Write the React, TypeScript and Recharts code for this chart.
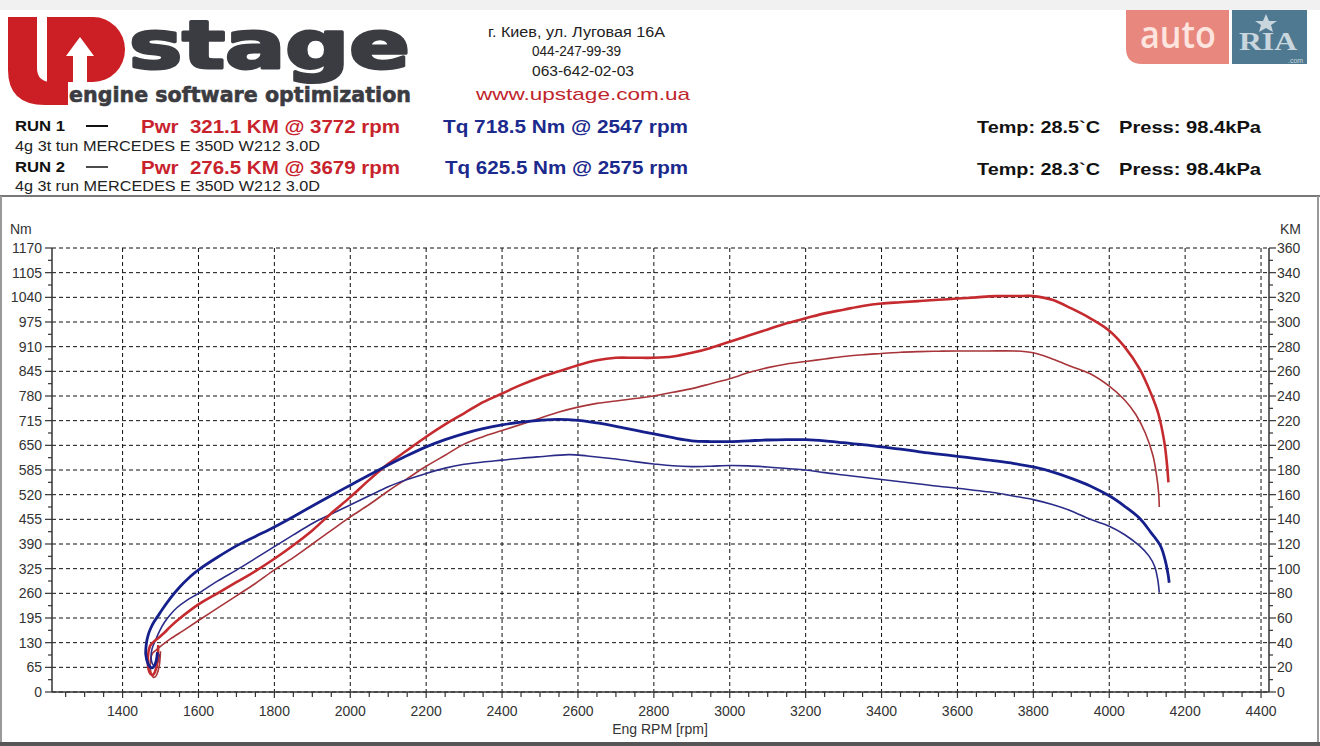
import React from 'react';
import { LineChart, Line, XAxis, YAxis, CartesianGrid } from 'recharts';

// ---------- data ----------
const rpmMajor = [1400, 1600, 1800, 2000, 2200, 2400, 2600, 2800, 3000, 3200, 3400, 3600, 3800, 4000, 4200, 4400];
const nmMajor = [0, 65, 130, 195, 260, 325, 390, 455, 520, 585, 650, 715, 780, 845, 910, 975, 1040, 1105, 1170];
const kmMajor = [0, 20, 40, 60, 80, 100, 120, 140, 160, 180, 200, 220, 240, 260, 280, 300, 320, 340, 360];

// [rpm, value] in recorded order (runs start with a small loop)
const run1Torque: [number, number][] = [
  [1492, 105], [1488, 80], [1479, 64], [1468, 72], [1461, 100], [1463, 130], [1468, 152], [1475, 170], [1483, 185],
  [1493, 200], [1505, 218], [1525, 246], [1550, 276], [1575, 301], [1600, 322], [1650, 355], [1700, 385], [1750, 410],
  [1800, 435], [1850, 462], [1900, 490], [1950, 518], [2000, 545], [2050, 572], [2100, 598], [2150, 623], [2200, 646],
  [2250, 665], [2300, 681], [2350, 694], [2400, 704], [2450, 711], [2500, 716], [2547, 718.5], [2600, 716], [2650, 709],
  [2700, 700], [2750, 690], [2800, 680], [2850, 670], [2900, 662], [2950, 660], [3000, 660], [3050, 662], [3100, 664],
  [3150, 665], [3200, 665], [3250, 662], [3300, 657], [3350, 652], [3400, 646], [3450, 640], [3500, 633], [3550, 627],
  [3600, 621], [3650, 615], [3700, 609], [3750, 602], [3800, 593], [3850, 580], [3900, 563], [3950, 543], [4000, 517],
  [4040, 490], [4080, 458], [4110, 420], [4135, 385], [4148, 345], [4155, 310], [4158, 288],
];
const run2Torque: [number, number][] = [
  [1497, 100], [1493, 80], [1486, 70], [1478, 75], [1475, 95], [1478, 115], [1486, 135], [1497, 160], [1510, 183],
  [1525, 203], [1543, 222], [1570, 242], [1600, 260], [1650, 292], [1700, 321], [1750, 352], [1800, 383], [1850, 414],
  [1900, 444], [1950, 469], [2000, 493], [2050, 517], [2100, 541], [2150, 560], [2200, 576], [2250, 590], [2300, 600],
  [2350, 606], [2400, 611], [2450, 616], [2500, 620], [2575, 625.5], [2625, 622], [2700, 614], [2750, 607], [2800, 601],
  [2850, 596], [2900, 594], [2950, 595], [3000, 597], [3050, 596], [3100, 593], [3150, 589], [3200, 585], [3250, 578],
  [3300, 572], [3350, 566], [3400, 560], [3450, 554], [3500, 548], [3550, 542], [3600, 537], [3650, 531], [3700, 525],
  [3750, 516], [3800, 507], [3850, 494], [3900, 477], [3950, 455], [4000, 437], [4040, 415], [4080, 385], [4105, 358],
  [4120, 330], [4128, 295], [4132, 262],
];
const run1Power: [number, number][] = [
  [1494, 38], [1492, 25], [1485, 16], [1476, 14], [1468, 19], [1467, 29], [1472, 37], [1483, 41], [1495, 44],
  [1510, 48], [1526, 53], [1552, 60], [1600, 71], [1650, 80], [1700, 89], [1750, 98], [1800, 108], [1850, 119],
  [1900, 131], [1950, 145], [2000, 158], [2050, 172], [2100, 185], [2150, 196], [2200, 207], [2250, 217], [2300, 226],
  [2350, 235], [2400, 242], [2450, 249], [2500, 255], [2550, 260], [2600, 265], [2650, 269], [2700, 271], [2750, 271],
  [2800, 271], [2850, 272], [2900, 275], [2950, 279], [3000, 284], [3050, 289], [3100, 294], [3150, 299], [3200, 303],
  [3250, 307], [3300, 310], [3350, 313], [3400, 315], [3450, 316], [3500, 317], [3550, 318], [3600, 319], [3650, 320],
  [3700, 321], [3772, 321.1], [3800, 321], [3850, 318], [3900, 311], [3950, 303], [4000, 293], [4040, 280], [4080, 262],
  [4110, 242], [4130, 225], [4145, 203], [4152, 185], [4156, 170],
];
const run2Power: [number, number][] = [
  [1500, 33], [1497, 22], [1490, 14], [1481, 12], [1474, 17], [1473, 25], [1478, 31], [1488, 34], [1500, 37],
  [1526, 43], [1561, 50], [1600, 58], [1650, 68], [1700, 78], [1750, 88], [1800, 99], [1850, 109], [1900, 120],
  [1950, 131], [2000, 142], [2050, 152], [2100, 163], [2150, 173], [2200, 183], [2250, 192], [2300, 201], [2350, 207],
  [2400, 212], [2450, 217], [2500, 222], [2550, 227], [2600, 231], [2650, 234], [2700, 236], [2750, 238], [2800, 240],
  [2850, 243], [2900, 246], [2950, 250], [3000, 254], [3050, 259], [3100, 263], [3150, 266], [3200, 268], [3250, 270],
  [3300, 272], [3350, 273.5], [3400, 274.5], [3450, 275.5], [3500, 276], [3550, 276.3], [3600, 276.5], [3679, 276.5],
  [3750, 276.5], [3800, 275], [3850, 270], [3900, 264], [3950, 258], [4000, 248], [4040, 237], [4070, 225], [4095, 210],
  [4115, 192], [4125, 175], [4130, 162], [4132, 150],
];

const toRows = (arr: [number, number][]) => arr.map(([rpm, v]) => ({ rpm, v }));

// tick lists (majors + midpoints for minor marks)
const rpmTicks = rpmMajor.flatMap((m) => [m - 150, m - 100, m - 50, m]);
const nmTicks = nmMajor.flatMap((m, i) => (i === 0 ? [m] : [m - 32.5, m]));
const kmTicks = kmMajor.flatMap((m, i) => (i === 0 ? [m] : [m - 10, m]));

// Catmull-Rom curve through points in recorded order (handles loops)
function catmull(context: any) {
  let pts: [number, number][] = [];
  return {
    areaStart() {},
    areaEnd() {},
    lineStart() {
      pts = [];
    },
    point(x: number, y: number) {
      pts.push([+x, +y]);
    },
    lineEnd() {
      if (!pts.length) return;
      context.moveTo(pts[0][0], pts[0][1]);
      for (let i = 0; i < pts.length - 1; i++) {
        const p0 = pts[i - 1] || pts[i];
        const p1 = pts[i];
        const p2 = pts[i + 1];
        const p3 = pts[i + 2] || p2;
        context.bezierCurveTo(
          p1[0] + (p2[0] - p0[0]) / 6,
          p1[1] + (p2[1] - p0[1]) / 6,
          p2[0] - (p3[0] - p1[0]) / 6,
          p2[1] - (p3[1] - p1[1]) / 6,
          p2[0],
          p2[1]
        );
      }
    },
  };
}

const FONT = '"Liberation Sans", Arial, sans-serif';
const AXIS = '#333';

const NmTick = (props: any) => {
  const { x, y, payload } = props;
  const major = nmMajor.includes(payload.value);
  return (
    <g>
      <line x1={x} x2={x - (major ? 7 : 4)} y1={y} y2={y} stroke={AXIS} strokeWidth={1.2} />
      {major && (
        <text x={x - 10} y={y + 5} textAnchor="end" fontSize={14} fontFamily={FONT} fill="#333">
          {payload.value}
        </text>
      )}
    </g>
  );
};
const KmTick = (props: any) => {
  const { x, y, payload } = props;
  const major = kmMajor.includes(payload.value);
  return (
    <g>
      <line x1={x} x2={x + (major ? 7 : 4)} y1={y} y2={y} stroke={AXIS} strokeWidth={1.2} />
      {major && (
        <text x={x + 8} y={y + 5} textAnchor="start" fontSize={14} fontFamily={FONT} fill="#333">
          {payload.value}
        </text>
      )}
    </g>
  );
};
const RpmTick = (props: any) => {
  const { x, y, payload } = props;
  const major = rpmMajor.includes(payload.value);
  return (
    <g>
      <line x1={x} x2={x} y1={y} y2={y + (major ? 6 : 5)} stroke={AXIS} strokeWidth={1.2} />
      {major && (
        <text x={x} y={y + 24} textAnchor="middle" fontSize={14} fontFamily={FONT} fill="#333">
          {payload.value}
        </text>
      )}
    </g>
  );
};

function Header() {
  const dark = '#222';
  const red = '#c8232c';
  const navy = '#1b2a8c';
  const logoGray = '#3b3c42';
  return (
    <svg width={1320} height={746} style={{ position: 'absolute', left: 0, top: 0, pointerEvents: 'none' }}>
      <rect x={0} y={0} width={1320} height={10} fill="#f1f1f1" />
      {/* logo */}
      <path d="M8,17 H37 V68 Q37,82 52,82 H68 V105 H45 Q8,105 8,70 Z" fill="#cc1f25" />
      <path d="M47,17 H93 A32,32.5 0 0 1 93,82 H47 Z" fill="#cc1f25" />
      <polygon points="80,37 94,56 87,56 87,84 73,84 73,56 66,56" fill="#ffffff" />
      <text x={129} y={68} fontSize={66} fontWeight={700} fontFamily='"DejaVu Sans", sans-serif' fill={logoGray} stroke={logoGray} strokeWidth={3} strokeLinejoin="round" textLength={281} lengthAdjust="spacingAndGlyphs">
        stage
      </text>
      <text x={69} y={102} fontSize={21} fontWeight={700} fontFamily='"DejaVu Sans", sans-serif' fill={logoGray} stroke={logoGray} strokeWidth={0.6} textLength={342} lengthAdjust="spacingAndGlyphs">
        engine software optimization
      </text>
      {/* contacts */}
      <text x={488} y={37} fontSize={14} fontFamily={FONT} fill={dark} textLength={177} lengthAdjust="spacingAndGlyphs">
        г. Киев, ул. Луговая 16А
      </text>
      <text x={532} y={56} fontSize={14} fontFamily={FONT} fill={dark} textLength={89} lengthAdjust="spacingAndGlyphs">
        044-247-99-39
      </text>
      <text x={532} y={76} fontSize={14} fontFamily={FONT} fill={dark} textLength={102} lengthAdjust="spacingAndGlyphs">
        063-642-02-03
      </text>
      <text x={476} y={100} fontSize={17} fontFamily={FONT} fill="#c0262d" textLength={214} lengthAdjust="spacingAndGlyphs">
        www.upstage.com.ua
      </text>
      {/* auto ria */}
      <path d="M1126,10 H1229 V64 H1142 Q1126,64 1126,48 Z" fill="#e8877d" />
      <text x={1140} y={48} fontSize={37} fontWeight={600} fontFamily='"Open Sans", sans-serif' fill="#fde4df" textLength={76} lengthAdjust="spacingAndGlyphs">
        auto
      </text>
      <rect x={1232} y={10} width={75} height={54} fill="#4f7991" />
      <text x={1239} y={50} fontSize={26} fontWeight={700} fontFamily='"Liberation Serif", serif' fill="#c9d6dd" textLength={58} lengthAdjust="spacingAndGlyphs">
        RIA
      </text>
      <polygon points="1266,14 1269,21 1277,21 1271,25 1273,32 1266,28 1259,32 1261,25 1255,21 1263,21" fill="#c9d6dd" />
      <text x={1288} y={63} fontSize={7} fontFamily={FONT} fill="#c9d6dd">
        .com
      </text>
      {/* run rows */}
      <text x={15} y={131} fontSize={14} fontWeight={700} fontFamily={FONT} fill="#111" textLength={50} lengthAdjust="spacingAndGlyphs">
        RUN 1
      </text>
      <line x1={86} x2={108} y1={126} y2={126} stroke="#111" strokeWidth={2} />
      <text x={141} y={133} fontSize={19} fontWeight={700} fontFamily={FONT} fill={red} textLength={259} lengthAdjust="spacingAndGlyphs" style={{ whiteSpace: 'pre' }}>
        {'Pwr  321.1 KM @ 3772 rpm'}
      </text>
      <text x={443} y={133} fontSize={19} fontWeight={700} fontFamily={FONT} fill={navy} textLength={245} lengthAdjust="spacingAndGlyphs">
        Tq 718.5 Nm @ 2547 rpm
      </text>
      <text x={977} y={133} fontSize={17} fontWeight={700} fontFamily={FONT} fill="#111" textLength={123} lengthAdjust="spacingAndGlyphs">
        Temp: 28.5`C
      </text>
      <text x={1119} y={133} fontSize={17} fontWeight={700} fontFamily={FONT} fill="#111" textLength={142} lengthAdjust="spacingAndGlyphs">
        Press: 98.4kPa
      </text>
      <text x={15} y={151} fontSize={14} fontFamily={FONT} fill={dark} textLength={305} lengthAdjust="spacingAndGlyphs">
        4g 3t tun MERCEDES E 350D W212 3.0D
      </text>
      <text x={15} y={172} fontSize={14} fontWeight={700} fontFamily={FONT} fill="#111" textLength={50} lengthAdjust="spacingAndGlyphs">
        RUN 2
      </text>
      <line x1={86} x2={108} y1={167} y2={167} stroke="#111" strokeWidth={1.5} />
      <text x={141} y={174} fontSize={19} fontWeight={700} fontFamily={FONT} fill={red} textLength={259} lengthAdjust="spacingAndGlyphs" style={{ whiteSpace: 'pre' }}>
        {'Pwr  276.5 KM @ 3679 rpm'}
      </text>
      <text x={445} y={174} fontSize={19} fontWeight={700} fontFamily={FONT} fill={navy} textLength={243} lengthAdjust="spacingAndGlyphs">
        Tq 625.5 Nm @ 2575 rpm
      </text>
      <text x={977} y={175} fontSize={17} fontWeight={700} fontFamily={FONT} fill="#111" textLength={123} lengthAdjust="spacingAndGlyphs">
        Temp: 28.3`C
      </text>
      <text x={1119} y={175} fontSize={17} fontWeight={700} fontFamily={FONT} fill="#111" textLength={142} lengthAdjust="spacingAndGlyphs">
        Press: 98.4kPa
      </text>
      <text x={15} y={191} fontSize={14} fontFamily={FONT} fill={dark} textLength={305} lengthAdjust="spacingAndGlyphs">
        4g 3t run MERCEDES E 350D W212 3.0D
      </text>
      {/* frame */}
      <line x1={0} x2={1320} y1={196} y2={196} stroke="#777" strokeWidth={2} />
      <line x1={1} x2={1} y1={196} y2={746} stroke="#999" strokeWidth={2} />
      <line x1={1318} x2={1318} y1={196} y2={746} stroke="#999" strokeWidth={2} />
      <rect x={0} y={742} width={1320} height={4} fill="#555" />
      {/* axis titles */}
      <text x={10} y={234} fontSize={14} fontFamily={FONT} fill="#333">Nm</text>
      <text x={1280} y={234} fontSize={14} fontFamily={FONT} fill="#333">KM</text>
      <text x={660} y={734} fontSize={14} fontFamily={FONT} fill="#333" textAnchor="middle">Eng RPM [rpm]</text>
    </svg>
  );
}

export default function App() {
  return (
    <div style={{ position: 'absolute', left: 0, top: 0, width: 1320, height: 746, background: '#fff', overflow: 'hidden' }}>
      <LineChart width={1320} height={746} margin={{ top: 248, right: 11, bottom: 24, left: 12 }}>
        <CartesianGrid
          xAxisId="rpm"
          yAxisId="nm"
          horizontalValues={nmMajor}
          verticalValues={rpmMajor}
          stroke="#111"
          strokeWidth={1}
          strokeDasharray="4 3"
        />
        <XAxis
          xAxisId="rpm"
          type="number"
          dataKey="rpm"
          domain={[1214, 4421]}
          allowDataOverflow
          ticks={rpmTicks}
          interval={0}
          height={30}
          tickSize={0}
          tickMargin={0}
          tickLine={false}
          tick={RpmTick}
          axisLine={{ stroke: AXIS, strokeWidth: 1.5 }}
        />
        <YAxis
          yAxisId="nm"
          orientation="left"
          type="number"
          domain={[0, 1170]}
          allowDataOverflow
          ticks={nmTicks}
          interval={0}
          width={40}
          tickSize={0}
          tickMargin={0}
          tickLine={false}
          tick={NmTick}
          axisLine={{ stroke: AXIS, strokeWidth: 1.5 }}
        />
        <YAxis
          yAxisId="km"
          orientation="right"
          type="number"
          domain={[0, 360]}
          allowDataOverflow
          ticks={kmTicks}
          interval={0}
          width={40}
          tickSize={0}
          tickMargin={0}
          tickLine={false}
          tick={KmTick}
          axisLine={{ stroke: AXIS, strokeWidth: 1.5 }}
        />
        <Line xAxisId="rpm" yAxisId="km" data={toRows(run2Power)} dataKey="v" type={catmull as any} stroke="#a8353a" strokeWidth={1.6} dot={false} isAnimationActive={false} />
        <Line xAxisId="rpm" yAxisId="nm" data={toRows(run2Torque)} dataKey="v" type={catmull as any} stroke="#2a2c88" strokeWidth={1.6} dot={false} isAnimationActive={false} />
        <Line xAxisId="rpm" yAxisId="km" data={toRows(run1Power)} dataKey="v" type={catmull as any} stroke="#c42a2e" strokeWidth={2.6} dot={false} isAnimationActive={false} />
        <Line xAxisId="rpm" yAxisId="nm" data={toRows(run1Torque)} dataKey="v" type={catmull as any} stroke="#16208c" strokeWidth={2.8} dot={false} isAnimationActive={false} />
      </LineChart>
      <Header />
    </div>
  );
}
